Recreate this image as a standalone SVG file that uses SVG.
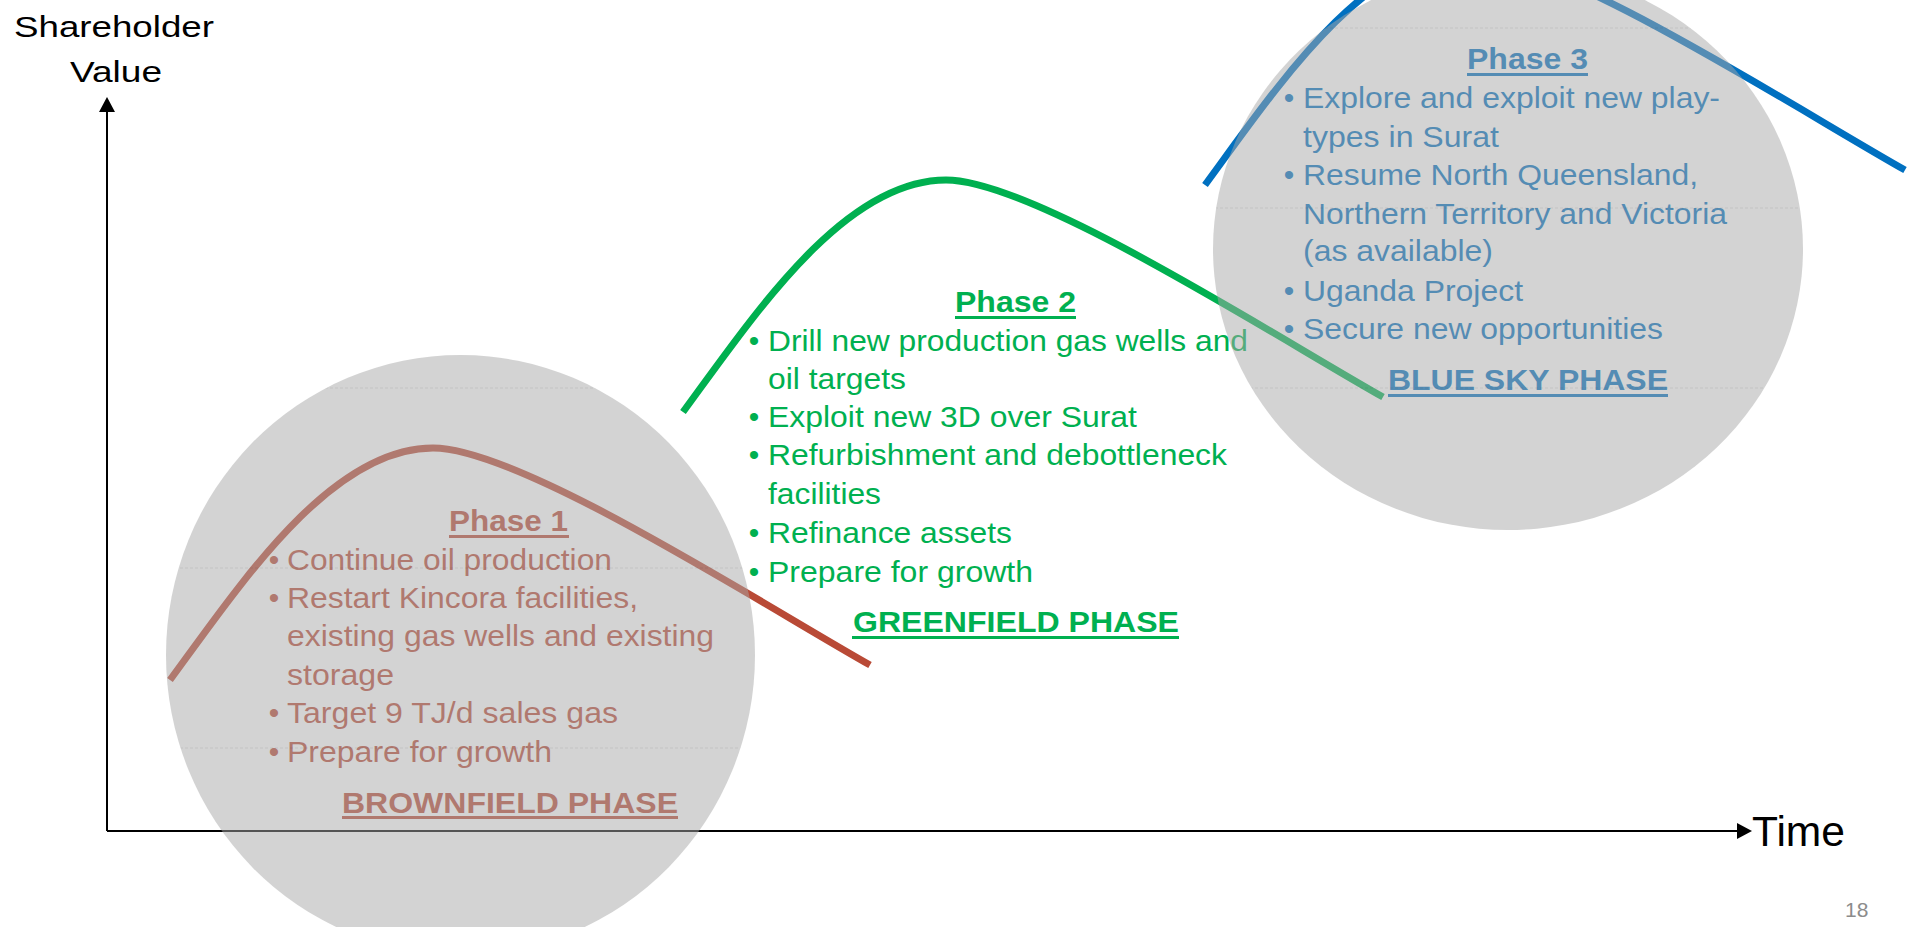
<svg xmlns="http://www.w3.org/2000/svg" width="1912" height="927" viewBox="0 0 1912 927">
  <defs>
    <style>
      .t { font-family: "Liberation Sans", Arial, sans-serif; font-size: 30px; }
      .b { font-weight: bold; }
      .ax { font-family: "Liberation Sans", Arial, sans-serif; fill: #000; }
      .red { fill: #B94A36; }
      .grn { fill: #00B050; }
      .blu { fill: #0070C0; }
      .curve { fill: none; stroke-width: 7; stroke-linecap: butt; }
      .bubble { fill: #A8A8A8; fill-opacity: 0.5; }
      .grain { stroke: #000; stroke-opacity: 0.07; stroke-width: 1; stroke-dasharray: 3 2; }
    </style>
    <marker id="arrow" viewBox="0 0 15 16" refX="0" refY="8" markerWidth="15" markerHeight="16" markerUnits="userSpaceOnUse" orient="auto">
      <path d="M0,0 L15,8 L0,16 Z" fill="#000"/>
    </marker>
    <clipPath id="clip1"><ellipse cx="460.5" cy="655" rx="294.5" ry="300"/></clipPath>
    <clipPath id="clip3"><ellipse cx="1508" cy="249" rx="295" ry="281"/></clipPath>
  </defs>

  <rect width="1912" height="927" fill="#fff"/>

  <!-- axes -->
  <g id="connectors" stroke="#000" stroke-width="2" fill="none">
    <path d="M107,831 V112" marker-end="url(#arrow)"/>
    <path d="M107,831 H1737" marker-end="url(#arrow)"/>
  </g>

  <g id="axis-labels">
    <text class="ax" x="14" y="37" font-size="30" textLength="200" lengthAdjust="spacingAndGlyphs">Shareholder</text>
    <text class="ax" x="70" y="82" font-size="30" textLength="92" lengthAdjust="spacingAndGlyphs">Value</text>
    <text class="ax" x="1752" y="846" font-size="42" textLength="93" lengthAdjust="spacingAndGlyphs">Time</text>
    <text x="1845" y="917" font-family="Liberation Sans, Arial, sans-serif" font-size="21" fill="#8C8C8C">18</text>
  </g>

  <!-- Phase 1: brownfield -->
  <g id="phase1">
    <path class="curve" stroke="#B94A36" d="M170,680 c70,-95 160,-232 263,-232 c87,0 327,155 437,217"/>
    <g class="t red">
      <text class="b" x="449" y="531" textLength="119" lengthAdjust="spacingAndGlyphs">Phase 1</text>
      <rect x="449" y="535" width="120" height="3"/>
      <text x="274" y="570" text-anchor="middle">•</text>
      <text x="287" y="570" textLength="325" lengthAdjust="spacingAndGlyphs">Continue oil production</text>
      <text x="274" y="608" text-anchor="middle">•</text>
      <text x="287" y="608" textLength="351" lengthAdjust="spacingAndGlyphs">Restart Kincora facilities,</text>
      <text x="287" y="646" textLength="427" lengthAdjust="spacingAndGlyphs">existing gas wells and existing</text>
      <text x="287" y="685" textLength="107" lengthAdjust="spacingAndGlyphs">storage</text>
      <text x="274" y="723" text-anchor="middle">•</text>
      <text x="287" y="723" textLength="331" lengthAdjust="spacingAndGlyphs">Target 9 TJ/d sales gas</text>
      <text x="274" y="762" text-anchor="middle">•</text>
      <text x="287" y="762" textLength="265" lengthAdjust="spacingAndGlyphs">Prepare for growth</text>
      <text class="b" x="342" y="813" textLength="336" lengthAdjust="spacingAndGlyphs">BROWNFIELD PHASE</text>
      <rect x="342" y="816" width="336" height="3"/>
    </g>
    <ellipse class="bubble" cx="460.5" cy="655" rx="294.5" ry="300"/>
    <g clip-path="url(#clip1)" class="grain">
      <line x1="160" y1="388" x2="760" y2="388"/>
      <line x1="160" y1="568" x2="760" y2="568"/>
      <line x1="160" y1="748" x2="760" y2="748"/>
    </g>
  </g>

  <!-- Phase 2: greenfield -->
  <g id="phase2">
    <path class="curve" stroke="#00B050" d="M683,412 c70,-95 160,-232 263,-232 c87,0 327,155 437,217"/>
    <g class="t grn">
      <text class="b" x="955" y="312" textLength="121" lengthAdjust="spacingAndGlyphs">Phase 2</text>
      <rect x="955" y="316" width="121" height="3"/>
      <text x="754" y="351" text-anchor="middle">•</text>
      <text x="768" y="351" textLength="480" lengthAdjust="spacingAndGlyphs">Drill new production gas wells and</text>
      <text x="768" y="389" textLength="138" lengthAdjust="spacingAndGlyphs">oil targets</text>
      <text x="754" y="427" text-anchor="middle">•</text>
      <text x="768" y="427" textLength="369" lengthAdjust="spacingAndGlyphs">Exploit new 3D over Surat</text>
      <text x="754" y="465" text-anchor="middle">•</text>
      <text x="768" y="465" textLength="459" lengthAdjust="spacingAndGlyphs">Refurbishment and debottleneck</text>
      <text x="768" y="504" textLength="113" lengthAdjust="spacingAndGlyphs">facilities</text>
      <text x="754" y="543" text-anchor="middle">•</text>
      <text x="768" y="543" textLength="244" lengthAdjust="spacingAndGlyphs">Refinance assets</text>
      <text x="754" y="582" text-anchor="middle">•</text>
      <text x="768" y="582" textLength="265" lengthAdjust="spacingAndGlyphs">Prepare for growth</text>
      <text class="b" x="853" y="632" textLength="326" lengthAdjust="spacingAndGlyphs">GREENFIELD PHASE</text>
      <rect x="852" y="636" width="327" height="3"/>
    </g>
  </g>

  <!-- Phase 3: blue sky -->
  <g id="phase3">
    <path class="curve" stroke="#0070C0" d="M1205,185 c70,-95 160,-232 263,-232 c87,0 327,155 437,217"/>
    <g class="t blu">
      <text class="b" x="1467" y="69" textLength="121" lengthAdjust="spacingAndGlyphs">Phase 3</text>
      <text x="1289" y="108" text-anchor="middle">•</text>
      <rect x="1467" y="73" width="121" height="3"/>
      <text x="1303" y="108" textLength="417" lengthAdjust="spacingAndGlyphs">Explore and exploit new play-</text>
      <text x="1303" y="146.5" textLength="196" lengthAdjust="spacingAndGlyphs">types in Surat</text>
      <text x="1289" y="185" text-anchor="middle">•</text>
      <text x="1303" y="185" textLength="395" lengthAdjust="spacingAndGlyphs">Resume North Queensland,</text>
      <text x="1303" y="223.5" textLength="424" lengthAdjust="spacingAndGlyphs">Northern Territory and Victoria</text>
      <text x="1303" y="261" textLength="190" lengthAdjust="spacingAndGlyphs">(as available)</text>
      <text x="1289" y="300.5" text-anchor="middle">•</text>
      <text x="1303" y="300.5" textLength="220" lengthAdjust="spacingAndGlyphs">Uganda Project</text>
      <text x="1289" y="339" text-anchor="middle">•</text>
      <text x="1303" y="339" textLength="360" lengthAdjust="spacingAndGlyphs">Secure new opportunities</text>
      <text class="b" x="1388" y="390" textLength="280" lengthAdjust="spacingAndGlyphs">BLUE SKY PHASE</text>
      <rect x="1388" y="394" width="280" height="3"/>
    </g>
    <ellipse class="bubble" cx="1508" cy="249" rx="295" ry="281"/>
    <g clip-path="url(#clip3)" class="grain">
      <line x1="1200" y1="28" x2="1810" y2="28"/>
      <line x1="1200" y1="208" x2="1810" y2="208"/>
      <line x1="1200" y1="388" x2="1810" y2="388"/>
    </g>
  </g>
</svg>
